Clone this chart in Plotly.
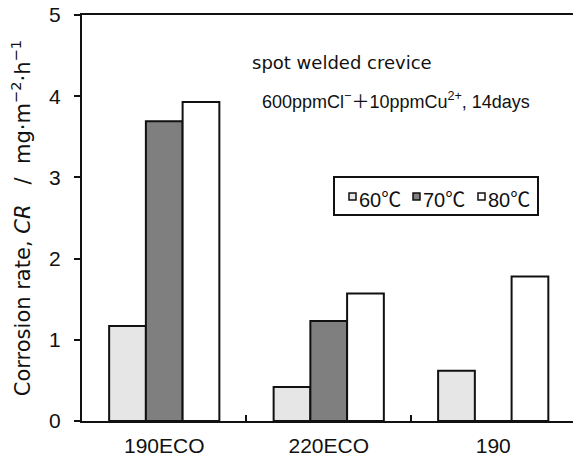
import plotly.graph_objects as go

categories = ["190ECO", "220ECO", "190"]
series_names = ["60℃", "70℃", "80℃"]
cr_60 = [1.17, 0.42, 0.62]
cr_70 = [3.69, 1.23, 0.0]
cr_80 = [3.93, 1.57, 1.78]
colors = ["#e6e6e6", "#7f7f7f", "#ffffff"]

ARIAL = "Liberation Sans, Arial, Noto Sans CJK JP, sans-serif"
WIDE = "DejaVu Sans, Verdana, sans-serif"

W, H = 573, 461
ML, MR, MT, MB = 82, 0, 15, 40
PW, PH = W - ML - MR, H - MT - MB


def px(x):
    return (x - ML) / PW


def py(y):
    return (H - MB - y) / PH


fig = go.Figure()
for name, vals, col in zip(series_names, [cr_60, cr_70, cr_80], colors):
    fig.add_trace(go.Bar(
        x=categories, y=vals, name=name, showlegend=False,
        marker=dict(color=col, line=dict(color="#111111", width=2)),
    ))

fig.update_layout(
    width=W, height=H,
    margin=dict(l=ML, r=MR, t=MT, b=MB),
    paper_bgcolor="white", plot_bgcolor="white",
    barmode="group", bargap=0.33, bargroupgap=0,
    font=dict(family=ARIAL, size=21, color="#111111"),
    showlegend=False,
)

fig.add_annotation(text="spot welded crevice", xref="paper", yref="paper",
                   x=px(342), y=py(63), showarrow=False,
                   font=dict(family=WIDE, size=18), xanchor="center", yanchor="middle")
fig.add_annotation(text="600ppmCl<sup>−</sup>＋10ppmCu<sup>2+</sup>, 14days", xref="paper", yref="paper",
                   x=px(396), y=py(100), showarrow=False,
                   font=dict(family=ARIAL, size=18), xanchor="center", yanchor="middle")

# custom legend
fig.add_shape(type="rect", xref="paper", yref="paper",
              x0=px(334), x1=px(538), y0=py(215), y1=py(177),
              line=dict(color="#111111", width=2), fillcolor="white", layer="above")
legend_x = [349, 413, 478]
for lx, name, col in zip(legend_x, series_names, colors):
    fig.add_shape(type="rect", xref="paper", yref="paper",
                  x0=px(lx), x1=px(lx + 7), y0=py(200), y1=py(193),
                  line=dict(color="#111111", width=1.5), fillcolor=col, layer="above")
    fig.add_annotation(text=name, xref="paper", yref="paper",
                       x=px(lx + 8), y=py(200), showarrow=False,
                       font=dict(family=ARIAL, size=20), xanchor="left", yanchor="middle")

fig.update_xaxes(
    type="category", range=[-0.5, 2.485],
    showline=True, linecolor="#111111", linewidth=2, mirror=True,
    ticks="inside", ticklen=6, tickwidth=2, tickcolor="#111111",
    tickson="boundaries", showgrid=False, ticklabelstandoff=5,
)
fig.update_yaxes(
    range=[0, 5], dtick=1, tick0=0,
    showline=True, linecolor="#111111", linewidth=2,
    ticks="outside", ticklen=6, tickwidth=1.5, tickcolor="#111111",
    showgrid=False, zeroline=False, ticklabelstandoff=9,
    title=dict(text="Corrosion rate, <i>CR</i>   /  mg·m<sup>−2</sup>·h<sup>−1</sup>",
               font=dict(family=WIDE, size=21), standoff=13),
)

fig.write_html("out.html")
